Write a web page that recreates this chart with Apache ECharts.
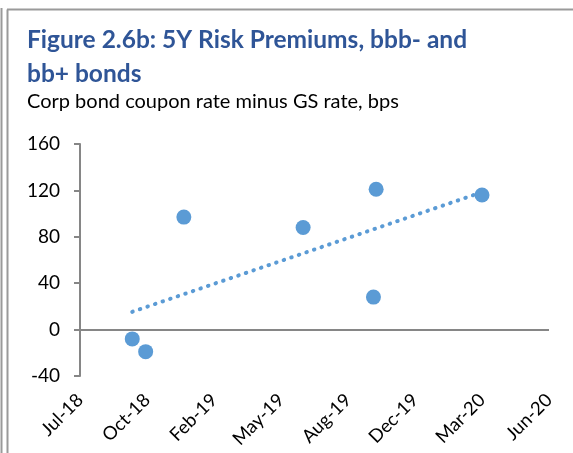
<!DOCTYPE html>
<html>
<head>
<meta charset="utf-8">
<script src="https://cdn.jsdelivr.net/npm/echarts@6/dist/echarts.min.js"></script>
<style>
  html, body { margin: 0; padding: 0; background: #fff; }
  #chart { width: 573px; height: 453px; }
</style>
</head>
<body>
<div id="chart"></div>
<script>
// Observation dates and 5Y risk premium (bps) for bbb- and bb+ bonds
const obsDates = ['2018-10-06', '2018-10-26', '2018-12-22', '2019-06-18', '2019-10-05', '2019-10-01', '2020-03-11'];
const premiums = [-8, -19, 97, 88, 121, 28, 116];

// Horizontal axis: days counted from this date, ticks every 100 days
const axisStart = '2018-07-20';
const axisSpanDays = 700;
const tickStepDays = 100;
const yTicks = { min: -40, max: 160, step: 40 };

const MONTHS = ['Jan','Feb','Mar','Apr','May','Jun','Jul','Aug','Sep','Oct','Nov','Dec'];
const DAY_MS = 86400000;
const startMs = Date.parse(axisStart + 'T00:00:00Z');
const toDay = s => Math.round((Date.parse(s + 'T00:00:00Z') - startMs) / DAY_MS);
const fmtDay = d => {
  const dt = new Date(startMs + d * DAY_MS);
  return MONTHS[dt.getUTCMonth()] + '-' + String(dt.getUTCFullYear()).slice(2);
};

const points = obsDates.map((s, i) => [toDay(s), premiums[i]]);

// Least-squares linear trend through the points
const n = points.length;
const mx = points.reduce((a, p) => a + p[0], 0) / n;
const my = points.reduce((a, p) => a + p[1], 0) / n;
let sxy = 0, sxx = 0;
points.forEach(p => { sxy += (p[0] - mx) * (p[1] - my); sxx += (p[0] - mx) ** 2; });
const slope = sxy / sxx;
const icpt = my - slope * mx;
const xs = points.map(p => p[0]);
const x0 = Math.min(...xs), x1 = Math.max(...xs);
const trend = [[x0, icpt + slope * x0], [x1, icpt + slope * x1]];

const BLUE = '#5B9BD5';
const AXIS = '#868686';
const FONT = 'Lato';

const chart = echarts.init(document.getElementById('chart'));
chart.setOption({
  animation: false,
  backgroundColor: '#fff',
  title: [
    {
      text: 'Figure 2.6b: 5Y Risk Premiums, bbb- and\nbb+ bonds',
      left: 22, top: 18,
      textStyle: { fontFamily: FONT, fontSize: 24.5, fontWeight: 'bold', color: '#2F5597', lineHeight: 34 }
    },
    {
      text: 'Corp bond coupon rate minus GS rate, bps',
      left: 22, top: 87,
      textStyle: { fontFamily: FONT, fontSize: 20, fontWeight: 'normal', color: '#000' }
    }
  ],
  graphic: [
    { type: 'line', shape: { x1: 1.5, y1: 8, x2: 1.5, y2: 453 }, style: { stroke: '#9a9a9a', lineWidth: 2 } },
    { type: 'line', shape: { x1: 7.5, y1: 9.5, x2: 7.5, y2: 453 }, style: { stroke: '#9a9a9a', lineWidth: 2 } },
    { type: 'line', shape: { x1: 7, y1: 9.5, x2: 573, y2: 9.5 }, style: { stroke: '#9a9a9a', lineWidth: 2 } }
  ],
  grid: { left: 80, right: 24, top: 144, bottom: 77, containLabel: false },
  xAxis: {
    type: 'value',
    min: 0, max: axisSpanDays, interval: tickStepDays,
    axisLine: { show: false, onZero: false },
    axisTick: { show: false },
    splitLine: { show: false },
    axisLabel: {
      rotate: 45, margin: 21,
      fontFamily: FONT, fontSize: 18.5, color: '#000',
      formatter: v => fmtDay(v)
    }
  },
  yAxis: {
    type: 'value',
    min: yTicks.min, max: yTicks.max, interval: yTicks.step,
    axisLine: { show: true, lineStyle: { color: AXIS, width: 2 } },
    axisTick: { show: true, inside: false, length: 6, lineStyle: { color: AXIS, width: 2 } },
    splitLine: { show: false },
    axisLabel: { margin: 20, fontFamily: FONT, fontSize: 19, color: '#000' }
  },
  series: [
    {
      type: 'line',
      data: trend,
      symbol: 'none',
      lineStyle: { color: BLUE, width: 4, type: [0.5, 7.5], cap: 'round' },
      z: 2,
      markLine: {
        silent: true, symbol: 'none', label: { show: false },
        lineStyle: { color: AXIS, width: 2, type: 'solid' },
        data: [{ yAxis: 0 }]
      }
    },
    {
      type: 'scatter',
      data: points,
      symbolSize: 15,
      itemStyle: { color: BLUE, opacity: 1 },
      z: 3
    }
  ]
});
</script>
</body>
</html>
